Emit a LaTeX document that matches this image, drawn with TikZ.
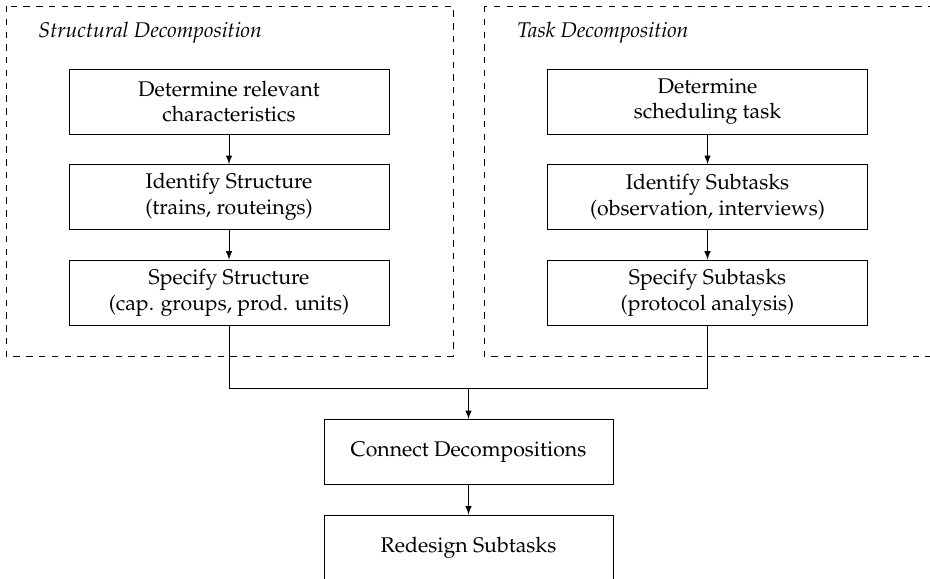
\documentclass[tikz,border=0pt]{standalone}
\usepackage[T1]{fontenc}
\usepackage{mathpazo}
\usetikzlibrary{positioning}

\begin{document}
\begin{tikzpicture}[
		x=0.47pt, y=-0.47pt,
		node distance={44.9pt},
		>=latex,
		box/.style = {draw, rectangle, minimum width=150.4pt, minimum height=30.6pt, align=center, inner sep=0pt},
		title/.style = {anchor=base west, inner sep=0pt, font=\itshape},
		group/.style = {draw, dashed}
	]
	\clip (0,0) rectangle (930,579);
	% the two dashed groups
	\draw[group] (6,6) rectangle (453,356);
	\draw[group] (484,6) rectangle (940,356);
	\node[title] (st) at (38,38) {Structural Decomposition};
	\node[title] (tt) at (517,38) {Task Decomposition};
	% structural side
	\node[box] (s1) at (229,101.5) {Determine relevant\\characteristics};
	\node[box] (s2) [below of=s1] {Identify Structure\\(trains, routeings)};
	\node[box] (s3) [below of=s2] {Specify Structure\\(cap. groups, prod. units)};
	% task side
	\node[box] (t1) at (707.5,101.5) {Determine\\scheduling task};
	\node[box] (t2) [below of=t1] {Identify Subtasks\\(observation, interviews)};
	\node[box] (t3) [below of=t2] {Specify Subtasks\\(protocol analysis)};
	% bottom
	\node[box, minimum width=135.8pt] (cd) at (468.5,452) {Connect Decompositions};
	\node[box, minimum width=135.8pt] (rd) [below of=cd] {Redesign Subtasks};
	\coordinate (join) at (468.5,388);
	\draw[->] (s1) to (s2);
	\draw[->] (s2) to (s3);
	\draw[->] (t1) to (t2);
	\draw[->] (t2) to (t3);
	\draw (s3.south) |- (join);
	\draw (t3.south) |- (join);
	\draw[->] (join) to (cd);
	\draw[->] (cd) to (rd);
\end{tikzpicture}
\end{document}
